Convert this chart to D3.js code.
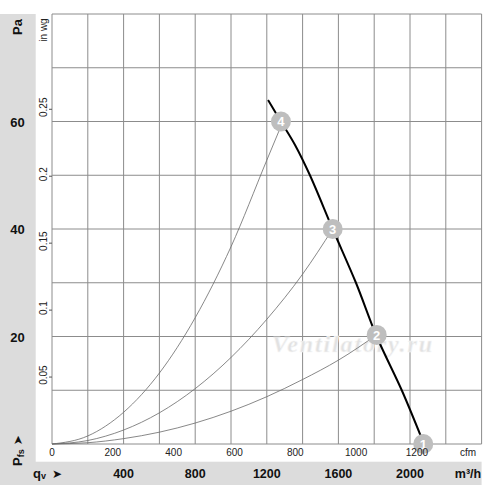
<!DOCTYPE html>
<html>
<head>
<meta charset="utf-8">
<script src="https://cdn.jsdelivr.net/npm/d3@7"></script>
<style>
  body { margin: 0; background: #fff; font-family: "Liberation Sans", Arial, sans-serif; }
  svg { display: block; }
</style>
</head>
<body>
<svg id="chart" width="500" height="485"></svg>
<script>
// airflow in m3/h, pressure in Pa
const fanQ = [1207, 1279, 1360, 1441, 1568, 1698, 1814, 1954, 2066];
const fanP = [64, 60, 55.5, 50, 40, 30, 20, 10, 1];

// system curves
const sys4Q = [0, 200, 400, 600, 800, 1000, 1200, 1290];
const sys4P = [0, 1.5, 5.9, 13.2, 23.5, 36.7, 52.8, 60];
const sys3Q = [0, 200, 400, 600, 800, 1000, 1200, 1400, 1568];
const sys3P = [0, 0.65, 2.6, 5.8, 10.3, 16.1, 23.2, 31.6, 40];
const sys2Q = [0, 200, 400, 600, 800, 1000, 1200, 1400, 1600, 1814];
const sys2P = [0, 0.24, 1.0, 2.2, 3.9, 6.1, 8.8, 12.0, 15.6, 20.3];

// operating points 1..4
const markLabel = ["1", "2", "3", "4"];
const markQ = [2074, 1814, 1568, 1279];
const markP = [0, 20.3, 40, 60];

const paTicks = [20, 40, 60];
const m3hTicks = [400, 800, 1200, 1600, 2000];
const cfmTicks = [0, 200, 400, 600, 800, 1000, 1200];
const inwgTicks = [0.05, 0.1, 0.15, 0.2, 0.25];

const svg = d3.select("#chart");
const pL = 52, pR = 481.6, pT = 14, pB = 444;

const x = d3.scaleLinear().domain([0, 2400]).range([pL, pR]);
const xc = d3.scaleLinear().domain([0, 2400 / 1.699]).range([pL, pR]);
const y = d3.scaleLinear().domain([0, 80]).range([pB, pT]);
const yw = d3.scaleLinear().domain([0, 80 / 249.09]).range([pB, pT]);

// gray side and bottom bands
svg.append("rect").attr("x", 0).attr("y", pT).attr("width", 35.7).attr("height", 485 - pT).attr("fill", "#dcdcdc");
svg.append("rect").attr("x", 0).attr("y", 461.7).attr("width", pR).attr("height", 485 - 461.7).attr("fill", "#dcdcdc");

// grid
const grid = svg.append("g").attr("stroke", "#8c8c8c").attr("stroke-width", 1);
grid.selectAll("line.v").data(d3.range(0, 2401, 200)).join("line")
  .attr("class", "v")
  .attr("x1", d => x(d)).attr("x2", d => x(d))
  .attr("y1", pT).attr("y2", pB);
grid.selectAll("line.h").data(d3.range(0, 81, 10)).join("line")
  .attr("class", "h")
  .attr("x1", pL).attr("x2", pR)
  .attr("y1", d => y(d)).attr("y2", d => y(d));

// watermark
svg.append("text")
  .attr("x", 352).attr("y", 352)
  .attr("text-anchor", "middle")
  .attr("font-family", "Liberation Serif, serif")
  .attr("font-style", "italic")
  .attr("font-weight", "bold")
  .attr("font-size", 24)
  .attr("textLength", 160)
  .attr("fill", "#e2e2e2")
  .attr("stroke", "#f6f6f6")
  .attr("stroke-width", 0.6)
  .text("Ventilatory.ru");

// system curves
const line = d3.line().x(d => x(d[0])).y(d => y(d[1])).curve(d3.curveMonotoneX);
[[sys4Q, sys4P], [sys3Q, sys3P], [sys2Q, sys2P]].forEach(([q, p]) => {
  svg.append("path")
    .datum(q.map((v, i) => [v, p[i]]))
    .attr("d", line)
    .attr("fill", "none")
    .attr("stroke", "#6a6a6a")
    .attr("stroke-width", 0.8);
});

// fan curve
svg.append("path")
  .datum(fanQ.map((v, i) => [v, fanP[i]]))
  .attr("d", d3.line().x(d => x(d[0])).y(d => y(d[1])).curve(d3.curveCatmullRom))
  .attr("fill", "none")
  .attr("stroke", "#000")
  .attr("stroke-width", 2);

// markers
const mk = svg.selectAll("g.mk").data(markLabel).join("g")
  .attr("class", "mk")
  .attr("transform", (d, i) => `translate(${x(markQ[i])},${y(markP[i])})`);
mk.append("circle").attr("r", 10).attr("fill", "#bebebe");
mk.append("text")
  .attr("text-anchor", "middle").attr("dy", "0.36em")
  .attr("font-size", 13).attr("font-weight", "bold").attr("fill", "#fff")
  .text(d => d);

// cfm axis labels
svg.selectAll("text.cfm").data(cfmTicks).join("text")
  .attr("class", "cfm")
  .attr("x", d => xc(d)).attr("y", 456)
  .attr("text-anchor", "middle").attr("font-size", 10).attr("fill", "#222")
  .text(d => d);
svg.append("text").attr("x", 468).attr("y", 456).attr("text-anchor", "middle")
  .attr("font-size", 10).attr("fill", "#222").text("cfm");

// in wg axis
svg.selectAll("line.wt").data(inwgTicks).join("line")
  .attr("class", "wt")
  .attr("x1", 49).attr("x2", pL)
  .attr("y1", d => yw(d)).attr("y2", d => yw(d))
  .attr("stroke", "#555");
svg.selectAll("text.wg").data(inwgTicks).join("text")
  .attr("class", "wg")
  .attr("transform", d => `translate(47,${yw(d) - 2}) rotate(-90)`)
  .attr("text-anchor", "middle").attr("font-size", 10).attr("fill", "#222")
  .text(d => d);
svg.append("text")
  .attr("transform", "translate(47,30) rotate(-90)")
  .attr("text-anchor", "middle").attr("font-size", 10).attr("fill", "#222")
  .text("in wg");

// Pa axis in the gray band
svg.selectAll("text.pa").data(paTicks).join("text")
  .attr("class", "pa")
  .attr("x", 17.5).attr("y", d => y(d) + 5)
  .attr("text-anchor", "middle").attr("font-size", 13).attr("font-weight", "bold").attr("fill", "#111")
  .text(d => d);
svg.append("text")
  .attr("transform", "translate(22,27) rotate(-90)")
  .attr("text-anchor", "middle").attr("font-size", 13).attr("font-weight", "bold").attr("fill", "#111")
  .text("Pa");
const pfs = svg.append("text")
  .attr("transform", "translate(22,466) rotate(-90)")
  .attr("font-size", 13).attr("font-weight", "bold").attr("fill", "#111");
pfs.append("tspan").text("P");
pfs.append("tspan").attr("font-size", 9).attr("dy", 2).text("fs");
pfs.append("tspan").attr("dy", -2).attr("dx", 4).attr("font-family", "DejaVu Sans").attr("font-size", 12).text("➤");

// m3/h axis in the gray band
svg.selectAll("text.m3").data(m3hTicks).join("text")
  .attr("class", "m3")
  .attr("x", d => x(d)).attr("y", 478)
  .attr("text-anchor", "middle").attr("font-size", 12.5).attr("font-weight", "bold").attr("fill", "#111")
  .text(d => d);
svg.append("text").attr("x", 468).attr("y", 478).attr("text-anchor", "middle")
  .attr("font-size", 12.5).attr("font-weight", "bold").attr("fill", "#111").text("m³/h");
const qv = svg.append("text").attr("x", 33).attr("y", 478)
  .attr("font-size", 13).attr("font-weight", "bold").attr("fill", "#111");
qv.append("tspan").text("q");
qv.append("tspan").attr("font-size", 9).attr("dy", 1).text("v");
qv.append("tspan").attr("dy", -1).attr("dx", 6).attr("font-family", "DejaVu Sans").attr("font-size", 12).text("➤");
</script>
</body>
</html>
